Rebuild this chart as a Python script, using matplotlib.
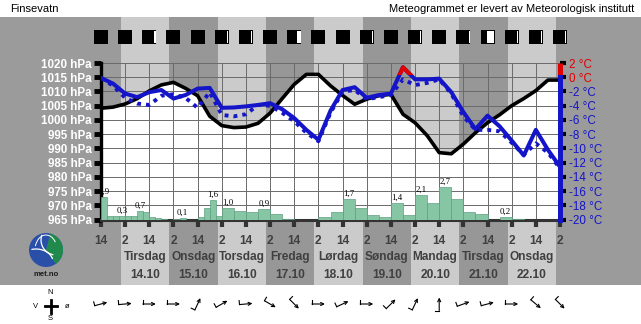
"""Meteogram for Finsevatn, Tuesday 14.10 to Wednesday 22.10."""

import matplotlib

matplotlib.use("Agg")
import matplotlib.pyplot as plt
import numpy as np
from matplotlib.patches import Arc, Circle, Rectangle, Wedge

plt.rcParams["font.family"] = ["Liberation Sans", "DejaVu Sans"]

# time axis: hours after Monday 13.10 14:00
hours = np.arange(0, 229, 6)
tick_hours = np.arange(0, 229, 12)
tick_labels = ["14", "2"] * 10

day_names = ["Tirsdag", "Onsdag", "Torsdag", "Fredag", "Lørdag",
             "Søndag", "Mandag", "Tirsdag", "Onsdag"]
day_dates = ["14.10", "15.10", "16.10", "17.10", "18.10",
             "19.10", "20.10", "21.10", "22.10"]
day_midnight = [10, 34, 58, 82, 106, 130, 154, 178, 202]

pressure = [1004.1, 1004.5, 1005.6, 1007.5, 1010.2, 1012.3, 1013.2, 1011.1,
            1008.5, 1001.3, 998.0, 997.3, 997.5, 998.8, 1002.4, 1007.5,
            1012.5, 1016.0, 1016.0, 1012.0, 1008.6, 1005.5, 1007.3, 1008.5,
            1009.0, 1002.0, 999.0, 994.5, 988.5, 988.1, 991.5, 995.5,
            999.0, 1001.8, 1005.0, 1007.5, 1010.3, 1014.0, 1014.0]
temperature = [-0.1, -0.9, -2.3, -2.8, -2.1, -1.8, -3.0, -2.5,
               -1.6, -1.5, -4.3, -4.25, -4.1, -3.9, -3.65, -4.5,
               -5.75, -7.4, -8.8, -4.7, -1.8, -1.4, -2.9, -2.5,
               -2.3, 1.4, -0.3, -0.3, -0.2, -2.1, -4.9, -7.3,
               -5.4, -6.9, -8.9, -11.0, -7.4, -10.2, -12.6]
temperature_dotted = [-0.1, -1.2, -2.9, -3.7, -3.9, -2.6, -2.4, -2.9,
                      -4.3, -2.1, -5.3, -5.5, -5.2, -3.9, -4.0, -5.0,
                      -6.2, -7.8, -9.0, -5.0, -2.0, -1.8, -3.1, -2.8,
                      -2.5, -0.3, -1.1, -0.8, -0.3, -2.3, -5.5, -7.4,
                      -7.4, -7.6, -9.2, -10.9, -9.3, -10.6, -12.8]

# precipitation (mm): 3-hourly for the first 60 h, then 6-hourly
precip_3h_start = np.arange(0, 60, 3)
precip_3h = [1.9, 0.3, 0.3, 0.3, 0.3, 0.3, 0.7, 0.6, 0.2, 0.1,
             0.05, 0.0, 0.05, 0.1, 0.0, 0.0, 0.2, 1.0, 1.6, 0.3]
precip_6h_start = np.arange(60, 228, 6)
precip_6h = [1.0, 0.7, 0.6, 0.9, 0.5, 0.05, 0.0, 0.0, 0.2, 0.6,
             1.7, 1.0, 0.4, 0.2, 1.4, 0.4, 2.1, 1.4, 2.7, 1.7,
             0.6, 0.5, 0.0, 0.2, 0.05, 0.0, 0.0, 0.0]
precip_label_hours = [0, 9, 18, 39, 54, 60, 78, 120, 144, 156, 168, 198]
precip_label_text = ["1,9", "0,3", "0,7", "0,1", "1,6", "1,0",
                     "0,9", "1,7", "1,4", "2,1", "2,7", "0,2"]

# weather symbol row (share of the box that is light)
symbol_sun = [0, 0, 0.09, 0, 0, 0.09, 0.09, 0, 0.29, 0,
              0, 0.09, 0, 0.09, 0, 0.09, 0.5, 0.09, 0.09, 0.09]

# wind: direction the arrow points to, degrees counter-clockwise from east
wind_arrow_deg = [15, 5, 0, 0, 65, 30, 5, -30, -45, 0,
                  25, 0, 45, 65, 90, 20, 15, 0, -40, -45]

W, H = 641, 324
BG = "#9b9b9b"
LIGHT = "#cbcbcb"
DARK = "#979797"
TXT = "#404040"
BLUE = "#1414c8"
RED = "#e00000"
GREEN = "#86c6a4"
GREEN_EDGE = "#5f9f80"

# plot frame in pixels
PL, PR, PT, PB = 101, 560, 63, 219.5


def frame(left, top, right, bottom):
    return [left / W, 1 - bottom / H, (right - left) / W, (bottom - top) / H]


def ax_frac(py):
    return (PB - py) / (PB - PT)


fig = plt.figure(figsize=(W / 100, H / 100), dpi=100)

bg = fig.add_axes([0, 0, 1, 1])
bg.set_xlim(0, W)
bg.set_ylim(H, 0)
bg.set_axis_off()
bg.set_zorder(0)
bg.add_patch(Rectangle((0, 17), W, 268, color=BG, lw=0))
bg.text(10, 9, "Finsevatn", fontsize=8, va="center")
bg.text(634, 9, "Meteogrammet er levert av Meteorologisk institutt",
        fontsize=8, va="center", ha="right")

# met.no logo
bg.add_patch(Circle((46, 250), 17, color="#2a4fa8", lw=0))
bg.add_patch(Wedge((46, 250), 17, -75, 55, color="#1f8a4c", lw=0))
bg.add_patch(Arc((36, 262), 34, 26, theta1=250, theta2=350, color="white", lw=0.9))
bg.add_patch(Arc((56, 240), 30, 30, theta1=100, theta2=200, color="white", lw=0.9))
bg.add_patch(Arc((46, 250), 22, 30, theta1=200, theta2=320, color="white", lw=0.7))
bg.text(46, 275, "met.no", fontsize=5.5, fontweight="bold", color="#1a1a1a",
        ha="center", va="center")

# compass
bg.text(50, 292, "N", fontsize=5.5, ha="center", va="center")
bg.text(50, 319, "S", fontsize=5.5, ha="center", va="center")
bg.text(36, 306, "V", fontsize=5.5, ha="center", va="center")
bg.text(67, 306, "ø", fontsize=5.5, ha="center", va="center")
bg.plot([45, 57], [306, 306], color="black", lw=2)
bg.plot([51, 51], [299.5, 312.5], color="black", lw=2)

# main pressure axes
ax = fig.add_axes(frame(PL, PT, PR, PB))
ax.set_zorder(1)
ax.patch.set_visible(False)
ax.set_xlim(0, 228)
ax.set_ylim(965, 1020)

for i, h0 in enumerate(day_midnight):
    ax.axvspan(h0, h0 + 24, ymin=ax_frac(285), ymax=ax_frac(17),
               color=LIGHT if i % 2 == 0 else DARK, lw=0, zorder=0, clip_on=False)
    ax.text(h0 + 12, ax_frac(257), day_names[i], transform=ax.get_xaxis_transform(),
            ha="center", va="center", fontsize=8.6, fontweight="bold", color=TXT)
    ax.text(h0 + 12, ax_frac(275), day_dates[i], transform=ax.get_xaxis_transform(),
            ha="center", va="center", fontsize=8.6, fontweight="bold", color=TXT)

ax.fill_between(hours, 965, pressure, color="white", lw=0, zorder=0.3)
ax.set_xticks(tick_hours)
ax.set_xticklabels(tick_labels, fontweight="bold")
p_ticks = np.arange(965, 1021, 5)
ax.set_yticks(p_ticks)
ax.set_yticklabels([f"{p} hPa" for p in p_ticks], fontweight="bold")
ax.grid(True, color="#6a6a6a", lw=0.7)
ax.set_axisbelow("line")
ax.plot(hours, pressure, color="black", lw=2.6, zorder=3)

ax.spines[["top", "right"]].set_visible(False)
ax.spines["left"].set(color="black", lw=2.4)
ax.spines["bottom"].set(color="#333333", lw=2.2)
ax.tick_params(axis="x", length=5, width=3, color="#333333", labelcolor=TXT,
               labelsize=8.6, pad=6)
ax.tick_params(axis="y", length=5, width=3.5, color="black", labelcolor="white",
               labelsize=8.4, pad=1.5)

# precipitation bars
ax_p = ax.twinx()
ax_p.set_zorder(2)
ax_p.set_ylim(0, (PB - PT) / 11.9)
ax_p.set_axis_off()
ax_p.bar(precip_3h_start, precip_3h, width=3, align="edge", color=GREEN,
         edgecolor=GREEN_EDGE, lw=0.5)
ax_p.bar(precip_6h_start, precip_6h, width=6, align="edge", color=GREEN,
         edgecolor=GREEN_EDGE, lw=0.5)
bars = {h: (3, v) for h, v in zip(precip_3h_start, precip_3h)}
bars.update({h: (6, v) for h, v in zip(precip_6h_start, precip_6h)})
for h, label in zip(precip_label_hours, precip_label_text):
    w, v = bars[h]
    ax_p.text(h + w / 2, v + 0.1, label, ha="center", va="bottom", fontsize=6.3,
              family="Liberation Serif", clip_on=True)

# temperature
ax_t = ax.twinx()
ax_t.set_zorder(3)
ax_t.set_ylim(-20, 2)
ax_t.plot(hours, temperature_dotted, color=BLUE, lw=2.8, linestyle=(0, (1, 1.3)))
ax_t.plot(hours, temperature, color=BLUE, lw=2.9)
warm, = ax_t.plot(hours, temperature, color=RED, lw=2.9)
warm.set_clip_path(Rectangle((0, 0.25), 228, 1.75, transform=ax_t.transData))

for side in ["left", "top", "bottom"]:
    ax_t.spines[side].set_visible(False)
ax_t.spines["right"].set(color=BLUE, lw=3.6)
ax_t.spines["right"].set_bounds(-20, 0)
ax_t.plot([1, 1], [0, 2], transform=ax_t.get_yaxis_transform(), color=RED,
          lw=3.6, clip_on=False, solid_capstyle="butt")
t_ticks = np.arange(-20, 3, 2)
ax_t.set_yticks(t_ticks)
ax_t.set_yticklabels([f"{t} °C" for t in t_ticks])
ax_t.tick_params(axis="y", length=4, width=3, pad=2.5, labelsize=8.4)
for tick, t in zip(ax_t.yaxis.get_major_ticks(), t_ticks):
    c = RED if t >= 0 else BLUE
    tick.tick2line.set_color(c)
    tick.label2.set_color(c)

unit = (PR - PL) / 228  # pixels per hour

# weather symbols
ax_sym = fig.add_axes(frame(PL, 28, PR, 46))
ax_sym.set_zorder(4)
ax_sym.set_xlim(0, 228)
ax_sym.set_ylim(-9 / unit, 9 / unit)
ax_sym.set_axis_off()
for h, sun in zip(tick_hours, symbol_sun):
    ax_sym.add_patch(Rectangle((h - 7 / unit, -6.8 / unit), 14 / unit, 13.6 / unit,
                               color="black", lw=0, clip_on=False))
    if sun:
        w = sun * 14 / unit
        ax_sym.add_patch(Rectangle((h + 6.4 / unit - w, -6 / unit), w, 12 / unit,
                                   color="white", lw=0, clip_on=False))

# wind arrows
ax_w = fig.add_axes(frame(PL, 289, PR, 319))
ax_w.set_zorder(4)
ax_w.set_xlim(0, 228)
ax_w.set_ylim(-15 / unit, 15 / unit)
ax_w.set_axis_off()
for h, deg in zip(tick_hours, wind_arrow_deg):
    ux, uy = np.cos(np.deg2rad(deg)), np.sin(np.deg2rad(deg))
    half = 6.5 / unit
    tail = (h - half * ux, -half * uy)
    head = (h + half * ux, half * uy)
    ax_w.annotate("", xy=head, xytext=tail, annotation_clip=False,
                  arrowprops=dict(arrowstyle="->", lw=0.8, color="black",
                                  shrinkA=0, shrinkB=0, mutation_scale=5.5))
    barb = 4 / unit
    ax_w.plot([tail[0], tail[0] - barb * uy], [tail[1], tail[1] + barb * ux],
              color="black", lw=0.8, clip_on=False)

fig.savefig("out.png", dpi=100)
